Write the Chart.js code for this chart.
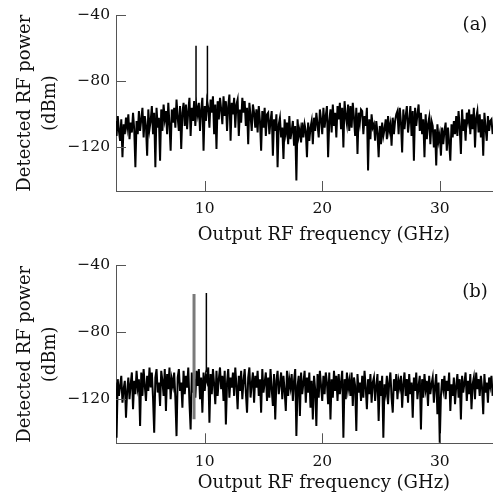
<!DOCTYPE html>
<html>
<head>
<meta charset="utf-8">
<script src="https://cdn.jsdelivr.net/npm/chart.js@4.4.1/dist/chart.umd.min.js"></script>
<style>
  html, body { margin: 0; padding: 0; background: #fff; overflow: hidden; }
  .panel { position: absolute; left: 0; }
</style>
</head>
<body>
<div class="panel" style="top:0"><canvas id="chartA" width="532" height="250"></canvas></div>
<div class="panel" style="top:250px"><canvas id="chartB" width="532" height="245"></canvas></div>
<script>
// frequency samples (GHz)
const freq = [
  2.4,2.5,2.6,2.7,2.8,2.9,3.0,3.1,3.2,3.3,
  3.4,3.5,3.6,3.7,3.8,3.9,4.0,4.1,4.2,4.3,
  4.4,4.5,4.6,4.7,4.8,4.9,5.0,5.1,5.2,5.3,
  5.4,5.5,5.6,5.7,5.8,5.9,6.0,6.1,6.2,6.3,
  6.4,6.5,6.6,6.7,6.8,6.9,7.0,7.1,7.2,7.3,
  7.4,7.5,7.6,7.7,7.8,7.9,8.0,8.1,8.2,8.3,
  8.4,8.5,8.6,8.7,8.8,8.9,9.0,9.1,9.2,9.3,
  9.4,9.5,9.6,9.7,9.8,9.9,10.0,10.1,10.2,10.3,
  10.4,10.5,10.6,10.7,10.8,10.9,11.0,11.1,11.2,11.3,
  11.4,11.5,11.6,11.7,11.8,11.9,12.0,12.1,12.2,12.3,
  12.4,12.5,12.6,12.7,12.8,12.9,13.0,13.1,13.2,13.3,
  13.4,13.5,13.6,13.7,13.8,13.9,14.0,14.1,14.2,14.3,
  14.4,14.5,14.6,14.7,14.8,14.9,15.0,15.1,15.2,15.3,
  15.4,15.5,15.6,15.7,15.8,15.9,16.0,16.1,16.2,16.3,
  16.4,16.5,16.6,16.7,16.8,16.9,17.0,17.1,17.2,17.3,
  17.4,17.5,17.6,17.7,17.8,17.9,18.0,18.1,18.2,18.3,
  18.4,18.5,18.6,18.7,18.8,18.9,19.0,19.1,19.2,19.3,
  19.4,19.5,19.6,19.7,19.8,19.9,20.0,20.1,20.2,20.3,
  20.4,20.5,20.6,20.7,20.8,20.9,21.0,21.1,21.2,21.3,
  21.4,21.5,21.6,21.7,21.8,21.9,22.0,22.1,22.2,22.3,
  22.4,22.5,22.6,22.7,22.8,22.9,23.0,23.1,23.2,23.3,
  23.4,23.5,23.6,23.7,23.8,23.9,24.0,24.1,24.2,24.3,
  24.4,24.5,24.6,24.7,24.8,24.9,25.0,25.1,25.2,25.3,
  25.4,25.5,25.6,25.7,25.8,25.9,26.0,26.1,26.2,26.3,
  26.4,26.5,26.6,26.7,26.8,26.9,27.0,27.1,27.2,27.3,
  27.4,27.5,27.6,27.7,27.8,27.9,28.0,28.1,28.2,28.3,
  28.4,28.5,28.6,28.7,28.8,28.9,29.0,29.1,29.2,29.3,
  29.4,29.5,29.6,29.7,29.8,29.9,30.0,30.1,30.2,30.3,
  30.4,30.5,30.6,30.7,30.8,30.9,31.0,31.1,31.2,31.3,
  31.4,31.5,31.6,31.7,31.8,31.9,32.0,32.1,32.2,32.3,
  32.4,32.5,32.6,32.7,32.8,32.9,33.0,33.1,33.2,33.3,
  33.4,33.5,33.6,33.7,33.8,33.9,34.0,34.1,34.2,34.3,
  34.4,34.5
];

// noise floor (dBm), panel (a)
const powerA = [
  -104,-113,-101,-110,-116,-103,-126,-106,-112,-102,
  -108,-100,-115,-105,-111,-99,-109,-132,-104,-112,
  -98,-110,-103,-96,-114,-101,-107,-125,-97,-109,
  -104,-95,-112,-99,-132,-96,-108,-102,-128,-97,
  -110,-94,-103,-98,-112,-93,-106,-122,-97,-105,
  -96,-108,-91,-102,-110,-95,-121,-99,-93,-107,
  -94,-109,-98,-90,-113,-96,-104,-92,-107,-95,
  -100,-93,-110,-97,-90,-122,-95,-104,-92,-96,
  -108,-91,-99,-89,-112,-94,-121,-92,-103,-90,
  -97,-106,-89,-101,-92,-110,-95,-88,-116,-93,
  -100,-90,-108,-94,-91,-113,-97,-105,-90,-99,
  -92,-107,-96,-118,-93,-101,-110,-94,-99,-108,
  -97,-111,-95,-104,-122,-98,-108,-96,-113,-100,
  -99,-112,-104,-98,-125,-103,-110,-100,-132,-106,
  -102,-114,-108,-127,-103,-111,-105,-118,-101,-115,
  -110,-104,-119,-107,-140,-103,-113,-109,-117,-105,
  -114,-106,-110,-126,-105,-116,-108,-104,-118,-102,
  -110,-99,-106,-114,-97,-103,-112,-96,-108,-101,
  -95,-126,-104,-97,-111,-94,-107,-99,-114,-95,
  -103,-93,-109,-96,-120,-92,-101,-106,-94,-110,
  -95,-108,-93,-102,-113,-96,-124,-99,-105,-97,
  -98,-112,-101,-107,-96,-134,-103,-115,-100,-108,
  -106,-116,-104,-111,-126,-107,-118,-105,-113,-109,
  -103,-115,-101,-110,-106,-119,-102,-112,-104,-100,
  -98,-112,-96,-105,-123,-97,-109,-101,-95,-111,
  -104,-95,-113,-98,-128,-96,-107,-100,-94,-110,
  -99,-112,-103,-126,-100,-115,-106,-102,-118,-104,
  -107,-120,-109,-131,-106,-116,-112,-125,-108,-118,
  -110,-105,-122,-108,-117,-128,-106,-114,-104,-112,
  -101,-113,-98,-108,-124,-97,-110,-103,-116,-99,
  -104,-97,-112,-100,-109,-96,-120,-102,-98,-111,
  -100,-114,-103,-125,-99,-108,-116,-101,-110,-104,
  -103,-112
];

// noise floor (dBm), panel (b)
const powerB = [
  -110,-143,-108,-118,-112,-106,-122,-114,-109,-131,
  -115,-107,-120,-111,-104,-126,-109,-117,-103,-113,
  -108,-136,-104,-118,-102,-112,-121,-106,-115,-101,
  -113,-104,-119,-140,-107,-102,-116,-110,-124,-103,
  -109,-118,-102,-127,-105,-114,-101,-120,-108,-112,
  -104,-119,-142,-107,-102,-115,-110,-125,-103,-117,
  -106,-113,-101,-122,-138,-104,-116,-108,-119,-103,
  -112,-102,-120,-107,-128,-104,-115,-106,-109,-101,
  -134,-105,-117,-102,-111,-123,-103,-118,-108,-101,
  -114,-106,-121,-103,-135,-110,-102,-119,-107,-113,
  -104,-118,-101,-112,-126,-106,-115,-103,-120,-109,
  -102,-116,-128,-107,-101,-119,-111,-104,-122,-106,
  -113,-103,-118,-108,-128,-102,-116,-110,-104,-121,
  -107,-119,-102,-114,-124,-105,-132,-109,-103,-117,
  -111,-104,-120,-106,-115,-127,-103,-118,-108,-113,
  -105,-121,-109,-102,-142,-112,-106,-130,-104,-117,
  -110,-103,-122,-107,-116,-104,-125,-109,-132,-106,
  -114,-136,-105,-119,-103,-112,-121,-106,-117,-104,
  -110,-123,-104,-132,-108,-119,-103,-115,-106,-121,
  -105,-117,-110,-103,-143,-108,-120,-104,-114,-109,
  -118,-104,-124,-107,-112,-139,-105,-116,-110,-121,
  -106,-119,-103,-113,-126,-108,-117,-105,-122,-110,
  -107,-121,-112,-105,-133,-109,-118,-106,-143,-111,
  -116,-106,-123,-110,-104,-119,-128,-108,-115,-105,
  -120,-109,-113,-106,-125,-111,-104,-118,-108,-122,
  -105,-117,-110,-131,-107,-115,-104,-120,-112,-106,
  -138,-108,-119,-105,-114,-109,-124,-106,-117,-111,
  -107,-122,-112,-105,-129,-110,-146,-118,-108,-114,
  -106,-120,-109,-115,-104,-127,-111,-118,-107,-123,
  -112,-105,-119,-108,-132,-106,-116,-110,-104,-121,
  -109,-117,-105,-126,-111,-107,-120,-104,-114,-108,
  -118,-106,-113,-129,-105,-116,-110,-122,-107,-112,
  -106,-118
];

// spectral lines: frequency, top and foot (dBm)
const peakFreqA = [9.26, 10.23];
const peakTopA = [-58.5, -58.5];
const peakFootA = [-98, -96];

const peakFreqB = [10.14];
const peakTopB = [-56.6];
const peakFootB = [-104];

// grey trace in panel (b): only its line at 9.09 GHz shows
const greyFreqB = [9.09];
const greyTopB = [-57.2];
const greyFootB = [-132];

const xTicks = [10, 20, 30];
const yTicks = [-120, -80, -40];

const serif = '"DejaVu Serif", "Liberation Serif", serif';

function toPoints(xs, ys) {
  return xs.map((x, i) => ({ x: x, y: ys[i] }));
}

// each line is foot -> top, with a gap before the next one
function linePoints(xs, tops, feet) {
  const pts = [];
  xs.forEach((x, i) => {
    pts.push({ x: x, y: feet[i] }, { x: x, y: tops[i] }, { x: x, y: null });
  });
  return pts;
}

// tick marks point into the plot, plus the (a)/(b) tag
const innerTicks = {
  id: 'innerTicks',
  afterDraw(chart, args, opts) {
    const { ctx, chartArea, scales } = chart;
    ctx.save();
    ctx.strokeStyle = '#555';
    ctx.lineWidth = 1;
    ctx.beginPath();
    xTicks.forEach(v => {
      const px = Math.round(scales.x.getPixelForValue(v)) + 0.5;
      ctx.moveTo(px, chartArea.bottom);
      ctx.lineTo(px, chartArea.bottom - 10);
    });
    yTicks.forEach(v => {
      const py = Math.round(scales.y.getPixelForValue(v)) + 0.5;
      ctx.moveTo(chartArea.left, py);
      ctx.lineTo(chartArea.left + 10, py);
    });
    ctx.stroke();
    ctx.fillStyle = '#111';
    ctx.font = '18px ' + serif;
    ctx.textAlign = 'center';
    ctx.textBaseline = 'middle';
    ctx.fillText(opts.label, 475, opts.labelY);
    ctx.restore();
  }
};

function makePanel(id, datasets, opts) {

  return new Chart(document.getElementById(id), {
    type: 'line',
    data: { datasets: datasets },
    options: {
      responsive: false,
      animation: false,
      spanGaps: false,
      layout: { padding: { top: opts.top, left: 0, right: 0, bottom: 0 } },
      elements: {
        point: { radius: 0 },
        line: { tension: 0 }
      },
      plugins: {
        legend: { display: false },
        tooltip: { enabled: false },
        innerTicks: { label: opts.label, labelY: opts.labelY }
      },
      scales: {
        x: {
          type: 'linear',
          min: 2.45,
          max: 37.85,
          grid: { display: false, drawTicks: false },
          border: { display: true, color: '#555', width: 1 },
          ticks: {
            color: '#111',
            padding: 9,
            font: { family: serif, size: 15.5 },
            callback: v => String(v)
          },
          afterBuildTicks: s => { s.ticks = xTicks.map(v => ({ value: v })); },
          afterFit: s => { s.height = opts.xHeight; },
          title: {
            display: true,
            text: 'Output RF frequency (GHz)',
            color: '#111',
            font: { family: serif, size: 18, lineHeight: 1.2 },
            padding: { top: 0, bottom: opts.titlePad }
          }
        },
        y: {
          min: opts.yMin,
          max: -40,
          grid: { display: false, drawTicks: false },
          border: { display: true, color: '#555', width: 1 },
          ticks: {
            color: '#111',
            padding: 6,
            font: { family: serif, size: 15.5 },
            callback: v => (v < 0 ? '\u2212' + Math.abs(v) : String(v))
          },
          afterBuildTicks: s => { s.ticks = yTicks.map(v => ({ value: v })); },
          afterFit: s => { s.width = 116; },
          title: {
            display: true,
            text: ['Detected RF power', '(dBm)'],
            color: '#111',
            font: { family: serif, size: 18, lineHeight: 1.39 },
            padding: { top: 12.5, bottom: 0 }
          }
        }
      }
    },
    plugins: [innerTicks]
  });
}

makePanel('chartA', [
  {
    data: linePoints(peakFreqA, peakTopA, peakFootA),
    borderColor: '#000',
    borderWidth: 1.5
  },
  {
    data: toPoints(freq, powerA),
    borderColor: '#000',
    borderWidth: 2
  }
], { top: 12, xHeight: 59, titlePad: 4.2, yMin: -146.4, label: '(a)', labelY: 25 });

makePanel('chartB', [
  {
    data: linePoints(peakFreqB, peakTopB, peakFootB),
    borderColor: '#000',
    borderWidth: 1.5
  },
  {
    data: linePoints(greyFreqB, greyTopB, greyFootB),
    borderColor: '#7a7a7a',
    borderWidth: 3
  },
  {
    data: toPoints(freq, powerB),
    borderColor: '#000',
    borderWidth: 2
  }
], { top: 14, xHeight: 51.7, titlePad: 1.2, yMin: -146.3, label: '(b)', labelY: 42 });
</script>
</body>
</html>
